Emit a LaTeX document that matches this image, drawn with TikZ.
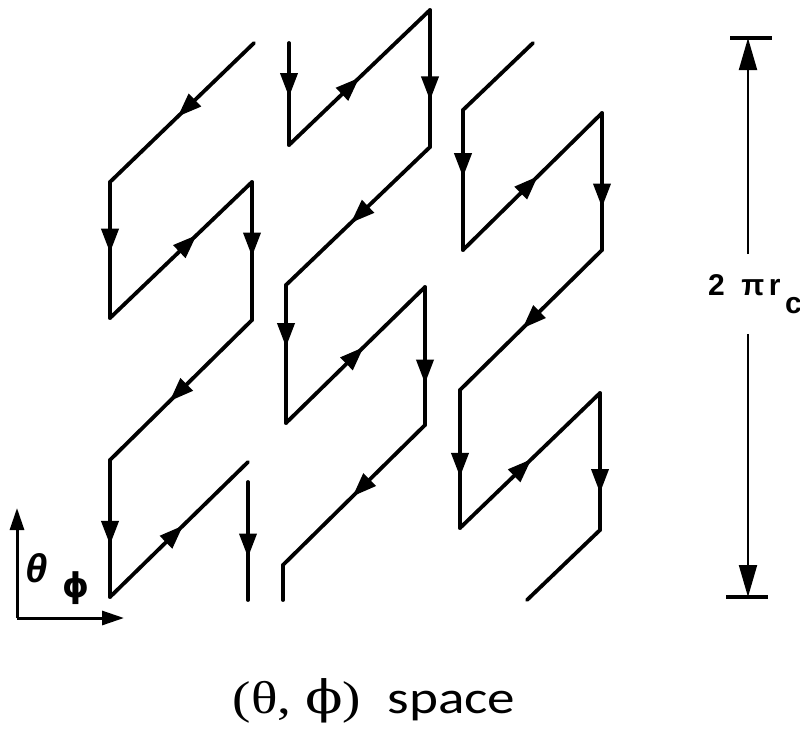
\documentclass[tikz,border=0pt]{standalone}
\usepackage{fontspec}
\usepackage{graphicx}
\usetikzlibrary{arrows.meta,decorations.markings}
\newfontfamily\capserif{Liberation Serif}
\newfontfamily\capsans{Carlito}
\newfontfamily\labsans{Liberation Sans}
\newfontfamily\grkserif{DejaVu Serif}
\newfontfamily\grksans{DejaVu Sans}

\begin{document}
\begin{tikzpicture}[x=0.5pt,y=-0.5pt,
    track/.style={line width=1.9pt,line cap=round},
    flow/.style={track,decoration={markings,mark=at position #1 with {\arrow{Triangle[length=12pt,width=8.5pt]}}},postaction={decorate}},
    axis/.style={line width=1.5pt,-{Triangle[length=11pt,width=7pt]}},
    dimline/.style={line width=1pt,-{Triangle[length=16pt,width=9pt]}},
    tick/.style={line width=1.6pt}]
  \useasboundingbox (0,0) rectangle (800,735);

  % first strip
  \coordinate (a0) at (254,43);
  \coordinate (a1) at (110,182);
  \coordinate (a2) at (110,318);
  \coordinate (a3) at (252,182);
  \coordinate (a4) at (252,320);
  \coordinate (a5) at (110,460);
  \coordinate (a6) at (110,597);
  \coordinate (a7) at (248,462);
  \coordinate (a8) at (248,482);
  \coordinate (a9) at (248,600);
  \draw[flow=.53] (a0) -- (a1);
  \draw[flow=.52] (a1) -- (a2);
  \draw[flow=.61] (a2) -- (a3);
  \draw[flow=.54] (a3) -- (a4);
  \draw[flow=.58] (a4) -- (a5);
  \draw[flow=.62] (a5) -- (a6);
  \draw[flow=.53] (a6) -- (a7);
  \draw[flow=.64] (a8) -- (a9);

  % second strip
  \coordinate (b0) at (289,43);
  \coordinate (b1) at (289,145);
  \coordinate (b2) at (430,10);
  \coordinate (b3) at (430,147);
  \coordinate (b4) at (286,285);
  \coordinate (b5) at (286,423);
  \coordinate (b6) at (425,287);
  \coordinate (b7) at (425,425);
  \coordinate (b8) at (283,565);
  \coordinate (b9) at (283,600);
  \draw[flow=.53] (b0) -- (b1);
  \draw[flow=.50] (b1) -- (b2);
  \draw[flow=.66] (b2) -- (b3);
  \draw[flow=.55] (b3) -- (b4);
  \draw[flow=.45] (b4) -- (b5);
  \draw[flow=.56] (b5) -- (b6);
  \draw[flow=.70] (b6) -- (b7);
  \draw[flow=.51] (b7) -- (b8);
  \draw[track] (b8) -- (b9);

  % third strip
  \coordinate (c0) at (533,43);
  \coordinate (c1) at (463,110);
  \coordinate (c2) at (463,250);
  \coordinate (c3) at (602,113);
  \coordinate (c4) at (602,250);
  \coordinate (c5) at (460,390);
  \coordinate (c6) at (460,528);
  \coordinate (c7) at (600,393);
  \coordinate (c8) at (600,530);
  \coordinate (c9) at (527,600);
  \draw[track] (c0) -- (c1);
  \draw[flow=.48] (c1) -- (c2);
  \draw[flow=.54] (c2) -- (c3);
  \draw[flow=.69] (c3) -- (c4);
  \draw[flow=.56] (c4) -- (c5);
  \draw[flow=.63] (c5) -- (c6);
  \draw[flow=.51] (c6) -- (c7);
  \draw[flow=.73] (c7) -- (c8);
  \draw[track] (c8) -- (c9);

  % axes
  \coordinate (o) at (17,618);
  \coordinate (up) at (17,508);
  \coordinate (right) at (124,618);
  \draw[axis] (o) -- (up);
  \draw[axis] (o) -- (right);
  \node[font=\labsans\bfseries\itshape\fontsize{20}{24}\selectfont] (th) at (37,568) {θ};
  \node[font=\grksans\bfseries\fontsize{17}{20}\selectfont] (ph) at (76,588) {ϕ};

  % period
  \coordinate (dimT) at (748,38);
  \coordinate (dimB) at (748,597);
  \node[inner sep=0pt,minimum height=39.5pt,font=\labsans\bfseries\fontsize{15}{18}\selectfont] (len) at (755,294)
    {2\hspace{0.55em}π\hspace{0.15em}r\hspace{0.15em}\raisebox{-0.6em}{c}};
  \draw[dimline] (len.north -| dimT) -- (dimT);
  \draw[dimline] (len.south -| dimB) -- (dimB);
  \draw[tick] ([xshift=-9pt]dimT) -- ([xshift=12pt]dimT);
  \draw[tick] ([xshift=-11pt]dimB) -- ([xshift=10pt]dimB);

  \node[anchor=base,inner sep=0pt] (cap) at (374,713)
    {\scalebox{1.2}[1]{\fontsize{23}{27}\selectfont\capserif(θ, {\grkserif ϕ})\hspace{11pt}\capsans space}};
\end{tikzpicture}
\end{document}
